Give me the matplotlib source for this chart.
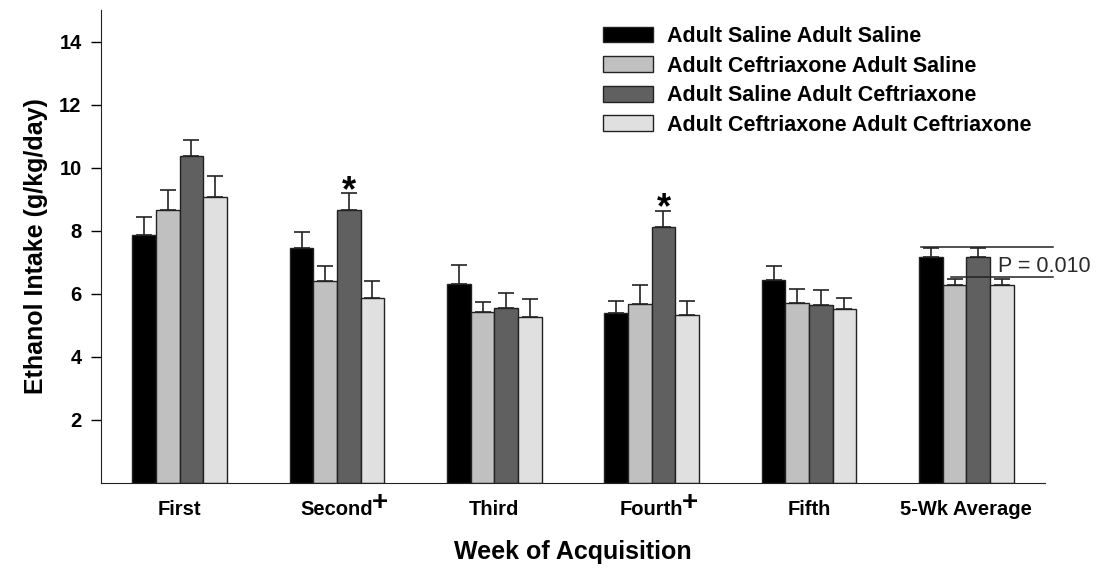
import numpy as np
import matplotlib
matplotlib.use("Agg")
import matplotlib.pyplot as plt

plt.rcParams['font.family'] = ['Liberation Sans', 'DejaVu Sans']

weeks = ["First", "Second", "Third", "Fourth", "Fifth", "5-Wk Average"]
groups = ["Adult Saline Adult Saline",
          "Adult Ceftriaxone Adult Saline",
          "Adult Saline Adult Ceftriaxone",
          "Adult Ceftriaxone Adult Ceftriaxone"]

sal_sal = [7.85, 7.46, 6.32, 5.40, 6.45, 7.16]
cef_sal = [8.66, 6.42, 5.42, 5.67, 5.72, 6.27]
sal_cef = [10.36, 8.66, 5.55, 8.13, 5.63, 7.16]
cef_cef = [9.06, 5.88, 5.27, 5.32, 5.51, 6.29]

sem_sal_sal = [0.60, 0.51, 0.60, 0.36, 0.44, 0.29]
sem_cef_sal = [0.64, 0.46, 0.33, 0.61, 0.43, 0.21]
sem_sal_cef = [0.52, 0.53, 0.48, 0.51, 0.48, 0.29]
sem_cef_cef = [0.69, 0.52, 0.56, 0.44, 0.35, 0.18]

colors = ['#000000', '#c0c0c0', '#606060', '#e0e0e0']
plus_weeks = [1, 3]
star_weeks = [1, 3]

means = [sal_sal, cef_sal, sal_cef, cef_cef]
sems = [sem_sal_sal, sem_cef_sal, sem_sal_cef, sem_cef_cef]

fig = plt.figure(figsize=(11.01, 5.69), dpi=100)
ax = fig.add_axes([101 / 1101, 86 / 569, 944 / 1101, 473 / 569])

x = np.arange(len(weeks))
w = 0.15
for i in range(4):
    pos = x + (i - 1.5) * w
    ax.bar(pos, means[i], w, color=colors[i], edgecolor='#222222',
           linewidth=1.0, label=groups[i], zorder=2)
    ax.errorbar(pos, means[i], yerr=[np.zeros(len(x)), sems[i]], fmt='none',
                ecolor='#222222', elinewidth=1.2, capsize=6, capthick=1.2,
                zorder=1)

# significance asterisks over Saline/Ceftriaxone bars
for k in star_weeks:
    xp = x[k] + 0.5 * w
    ax.text(xp, sal_cef[k] + sem_sal_cef[k] + 0.05, '*', ha='center',
            va='center', fontsize=26, fontweight='bold')

# bracket for 5-wk average
ax.plot([4.71, 5.55], [7.47, 7.47], color='#222222', lw=1.1, clip_on=False)
ax.plot([4.90, 5.55], [6.53, 6.53], color='#222222', lw=1.1, clip_on=False)
ax.text(5.20, 6.85, 'P = 0.010', ha='left', va='center', fontsize=15.5,
        color='#2a2a2a')

ax.set_xlim(-0.5, 5.5)
ax.set_ylim(0, 15)
ax.set_yticks([2, 4, 6, 8, 10, 12, 14])
ax.set_xticks(x)
ax.set_xticklabels(weeks, fontsize=14.5, fontweight='bold')
ax.tick_params(axis='x', length=0, pad=12)
ax.tick_params(axis='y', length=7, width=1, direction='out', labelsize=14.5,
               pad=7)
for lab in ax.get_yticklabels():
    lab.set_fontweight('bold')
ax.spines['top'].set_visible(False)
ax.spines['right'].set_visible(False)
ax.spines['left'].set_color('#222222')
ax.spines['bottom'].set_color('#222222')

ax.set_ylabel('Ethanol Intake (g/kg/day)', fontsize=18, fontweight='bold',
              labelpad=8)
ax.set_xlabel('Week of Acquisition', fontsize=18, fontweight='bold',
              labelpad=15)

fig.canvas.draw()
labels = ax.get_xticklabels()
for k in plus_weeks:
    ax.annotate('+', xy=(0.98, 0.8), xycoords=labels[k], ha='left',
                va='center', fontsize=20, fontweight='bold')

ax.legend(loc='upper left', bbox_to_anchor=(603 / 1101, 1 - 26 / 569),
          bbox_transform=fig.transFigure, frameon=False, borderpad=0,
          borderaxespad=0, prop={'weight': 'bold', 'size': 15.5},
          handlelength=2.33, handleheight=0.75, handletextpad=0.65,
          labelspacing=0.4)

fig.savefig('out.png', dpi=100)
